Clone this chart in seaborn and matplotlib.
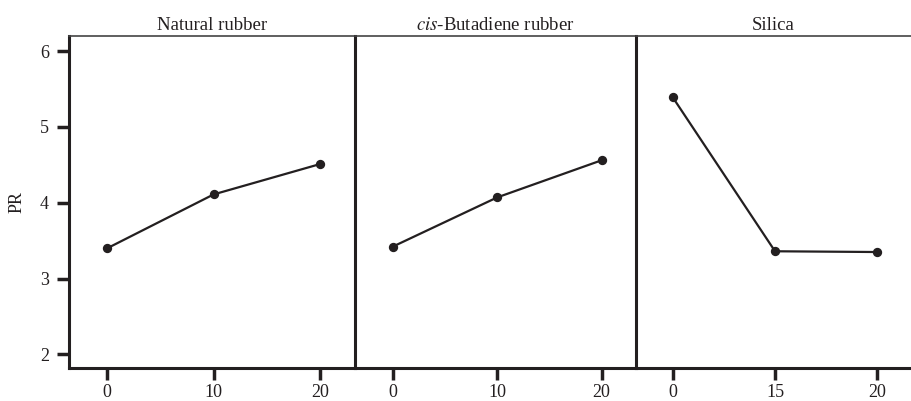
import matplotlib
matplotlib.use("Agg")
import matplotlib.pyplot as plt
import seaborn as sns
import pandas as pd

panels = ["Natural rubber", "$\\it{cis}$-Butadiene rubber", "Silica"]
levels_nr = ["0", "10", "20"]
levels_br = ["0", "10", "20"]
levels_si = ["0", "15", "20"]
pr_nr = [3.40, 4.11, 4.51]
pr_br = [3.42, 4.07, 4.56]
pr_si = [5.39, 3.36, 3.35]
y_ticks = [2, 3, 4, 5, 6]

sns.set_theme(style="white")
plt.rcParams["font.family"] = ["Liberation Serif", "DejaVu Serif"]
plt.rcParams["mathtext.fontset"] = "stix"
ink = "#231f20"

fig = plt.figure(figsize=(9.11, 4.01), dpi=100)
bottom, top = 1 - 368/401, 1 - 36/401
bounds = [69, 355, 636, 911]
data = [(levels_nr, pr_nr), (levels_br, pr_br), (levels_si, pr_si)]
for i, (lv, pr) in enumerate(data):
    x0 = bounds[i] / 911
    w = (bounds[i + 1] - bounds[i]) / 911
    ax = fig.add_axes([x0, bottom, w, top - bottom])
    df = pd.DataFrame({"level": lv, "PR": pr})
    sns.pointplot(data=df, x="level", y="PR", color=ink, ax=ax,
                  markers="o", markersize=5.5, linewidth=1.6, errorbar=None)
    ax.set_xlim(-0.36, 2.33)
    ax.set_ylim(1.82, 6.2)
    ax.set_title(panels[i], fontsize=13.5, color=ink, pad=4)
    ax.set_xlabel("")
    for s in ["left", "bottom"]:
        ax.spines[s].set_linewidth(2.2)
        ax.spines[s].set_color(ink)
    ax.spines["top"].set_linewidth(1.2)
    ax.spines["top"].set_color("#444")
    ax.spines["right"].set_visible(False)
    ax.tick_params(axis="x", direction="out", length=8.5, width=2.5, color=ink,
                   labelsize=13, labelcolor=ink, pad=3, bottom=True)
    ax.set_yticks(y_ticks)
    if i == 0:
        ax.tick_params(axis="y", direction="out", length=8.5, width=2.5, color=ink,
                       labelsize=13, labelcolor=ink, pad=6, left=True)
        ax.set_ylabel("PR", fontsize=13, color=ink, labelpad=10)
    else:
        ax.tick_params(axis="y", left=False, labelleft=False)
        ax.set_ylabel("")

fig.savefig("out.png", dpi=100)
